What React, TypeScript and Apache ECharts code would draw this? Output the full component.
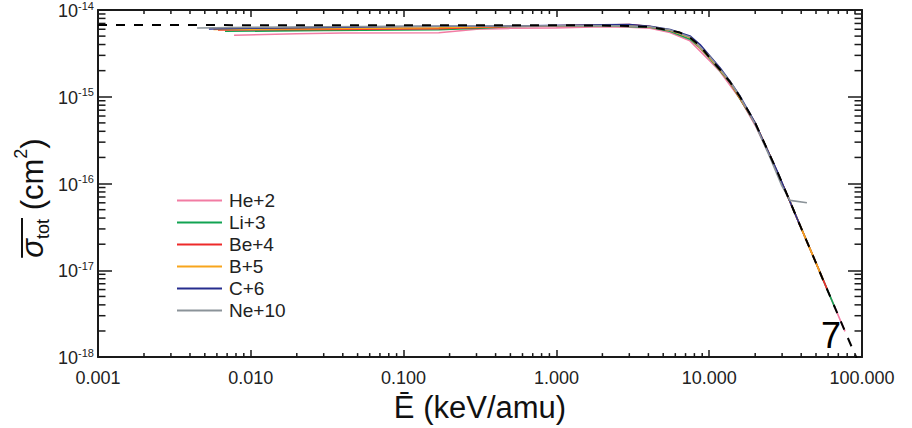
import React, { useEffect, useRef } from "react";
import * as echarts from "echarts";

// ---- data (energy in keV/amu, cross-section in cm^2) ----
const seriesNames = ["He+2", "Li+3", "Be+4", "B+5", "C+6", "Ne+10"];
const seriesColors = ["#f27ca3", "#12a352", "#ee2a2a", "#f8a51c", "#262d8e", "#8b9399"];

const he2: number[][] = [
  [0.00777, 5.12e-15], [0.02, 5.32e-15], [0.04, 5.44e-15], [0.17, 5.46e-15], [0.3, 6.0e-15],
  [0.5, 6.15e-15], [1.0, 6.22e-15], [2.0, 6.43e-15], [3.0, 6.35e-15], [4.1, 6.15e-15],
  [5.54, 5.5e-15], [7.48, 4.41e-15], [10.1, 2.58e-15], [11.8, 1.94e-15], [15.9, 9.5e-16],
  [20, 4.7e-16], [25, 2.08e-16], [33.8, 6.18e-17], [47.1, 1.56e-17], [66.5, 3.72e-18], [77.4, 1.98e-18],
];
const li3: number[][] = [
  [0.00678, 5.68e-15], [0.03, 5.8e-15], [0.17, 5.91e-15], [0.35, 6.2e-15], [0.5, 6.45e-15],
  [2.0, 6.6e-15], [4.1, 6.35e-15], [5.54, 5.7e-15], [7.48, 4.6e-15], [8.71, 3.65e-15],
  [10.1, 2.75e-15], [13.7, 1.45e-15], [20, 4.9e-16], [25, 2.1e-16], [33.8, 6.18e-17],
  [47.1, 1.56e-17], [66.5, 3.72e-18],
];
const be4: number[][] = [
  [0.0061, 5.88e-15], [0.03, 5.98e-15], [0.17, 6.1e-15], [0.5, 6.45e-15], [2.0, 6.7e-15],
  [3.0, 6.8e-15], [4.1, 6.45e-15], [5.54, 5.85e-15], [7.48, 4.85e-15], [10.1, 2.84e-15],
  [13.7, 1.48e-15], [20, 4.95e-16], [25, 2.1e-16], [33.8, 6.18e-17], [39.3, 3.29e-17],
  [47.1, 1.56e-17], [59.0, 6.12e-18],
];
const b5: number[][] = [
  [0.0057, 5.98e-15], [0.03, 6.1e-15], [0.17, 6.25e-15], [0.5, 6.5e-15], [2.0, 6.65e-15],
  [3.0, 6.6e-15], [4.1, 6.4e-15], [5.54, 5.84e-15], [7.48, 4.82e-15], [10.1, 2.82e-15],
  [13.7, 1.48e-15], [20, 5.0e-16], [25, 2.1e-16], [33.8, 6.18e-17], [39.3, 3.29e-17],
  [47.1, 1.56e-17], [55.6, 7.76e-18],
];
const c6: number[][] = [
  [0.00532, 6.04e-15], [0.01, 6.15e-15], [0.03, 6.3e-15], [0.1, 6.45e-15], [0.5, 6.55e-15],
  [2.0, 6.75e-15], [3.0, 6.8e-15], [4.1, 6.5e-15], [5.54, 5.95e-15], [7.48, 5.02e-15],
  [8.71, 4.0e-15], [10.1, 2.95e-15], [11.8, 2.15e-15], [13.7, 1.5e-15], [15.9, 1.02e-15],
  [20, 5.0e-16], [25, 2.1e-16], [27.8, 1.4e-16], [33.8, 6.18e-17], [39.3, 3.29e-17],
];
const ne10: number[][] = [
  [0.00445, 6.2e-15], [0.01, 6.3e-15], [0.03, 6.42e-15], [0.1, 6.5e-15], [0.5, 6.55e-15],
  [2.0, 6.6e-15], [3.03, 6.53e-15], [4.1, 6.4e-15], [5.54, 5.9e-15], [7.48, 4.9e-15],
  [10.1, 2.9e-15], [13.7, 1.5e-15], [15.9, 1.0e-15], [20, 4.8e-16], [25, 2.0e-16],
  [29.9, 9.4e-17], [33.8, 6.4e-17], [43.6, 6.0e-17],
];
const fitCurve: number[][] = [
  [0.001, 6.7e-15], [1.0, 6.68e-15], [2.0, 6.62e-15], [3.03, 6.53e-15], [4.1, 6.37e-15],
  [5.54, 5.84e-15], [6.44, 5.49e-15], [7.48, 4.82e-15], [8.71, 3.86e-15], [10.1, 2.8e-15],
  [11.8, 2.05e-15], [13.7, 1.48e-15], [15.9, 1.0e-15], [20, 5.0e-16], [25, 2.1e-16],
  [27.8, 1.4e-16], [33.8, 6.18e-17], [39.3, 3.29e-17], [47.1, 1.56e-17], [55.6, 7.76e-18],
  [66.5, 3.72e-18], [77.4, 1.98e-18], [92.7, 9.5e-19], [100, 6.9e-19],
];
const seriesData = [he2, li3, be4, b5, c6, ne10];

const xMin = 0.001, xMax = 100;
const yMin = 1e-18, yMax = 1e-14;
const panelLabel = "7";

const FONT = "'Liberation Sans', Arial, Helvetica, sans-serif";
const TITLE_SIZE = 31;
const SUB_SIZE = 18;

function measure(text: string, font: string): number {
  const c = document.createElement("canvas").getContext("2d");
  if (!c) return text.length * 10;
  c.font = font;
  return c.measureText(text).width;
}

export default function App() {
  const ref = useRef<HTMLDivElement>(null);
  useEffect(() => {
    if (!ref.current) return;
    const chart = echarts.init(ref.current, undefined, { renderer: "svg" });

    const xMinor: number[][] = [];
    for (let k = -3; k <= 1; k++) for (let m = 2; m <= 9; m++) xMinor.push([m * Math.pow(10, k), yMax]);
    const yMinor: number[][] = [];
    for (let k = -18; k <= -15; k++) for (let m = 2; m <= 9; m++) yMinor.push([xMin, m * Math.pow(10, k)]);

    const tickStyle = { stroke: "#1a1a1a", lineWidth: 1.5 };

    const axisCommon = {
      type: "log" as const,
      logBase: 10,
      axisLine: { show: true, lineStyle: { color: "#1a1a1a", width: 2 } },
      splitLine: { show: false },
    };

    const famCss = "\"Liberation Sans\", Arial, sans-serif";
    const wSig = measure("σ", `italic ${TITLE_SIZE}px ${famCss}`) + measure("tot", `${SUB_SIZE}px ${famCss}`);
    const wRest =
      measure(" (cm", `${TITLE_SIZE}px ${famCss}`) +
      measure("2", `${SUB_SIZE}px ${famCss}`) +
      measure(")", `${TITLE_SIZE}px ${famCss}`);
    const wTotal = wSig + wRest;
    const titleCenterY = 198;
    const titleBaseX = 32;
    const gy = titleCenterY + wTotal / 2;

    const option: any = {
      animation: false,
      backgroundColor: "#ffffff",
      grid: { left: 98, right: 50, top: 7.5, bottom: 70, containLabel: false },
      xAxis: [
        {
          ...axisCommon,
          min: xMin, max: xMax, splitNumber: 5, position: "bottom",
          axisTick: { show: true, inside: true, length: 7, lineStyle: { color: "#1a1a1a", width: 1.5 } },
          axisLabel: {
            show: true, margin: 12, fontSize: 18, color: "#222", fontFamily: FONT,
            formatter: (v: number) => v.toFixed(3),
          },
          name: "Ē (keV/amu)", nameLocation: "middle", nameGap: 34,
          nameTextStyle: { fontSize: TITLE_SIZE, color: "#111", fontFamily: FONT },
        },
        {
          ...axisCommon,
          min: xMin, max: xMax, splitNumber: 5, position: "top",
          axisTick: { show: true, inside: true, length: 7, lineStyle: { color: "#1a1a1a", width: 1.5 } },
          axisLabel: { show: false },
        },
      ],
      yAxis: [
        {
          ...axisCommon,
          min: yMin, max: yMax, splitNumber: 4, position: "left",
          axisTick: { show: true, inside: true, length: 14, lineStyle: { color: "#1a1a1a", width: 1.5 } },
          axisLabel: {
            show: true, margin: 4, color: "#222", fontFamily: FONT,
            formatter: (v: number) => `{b|10}{s|${Math.round(Math.log10(v))}}`,
            rich: {
              b: { fontSize: 18, fontFamily: FONT, color: "#222", lineHeight: 20, verticalAlign: "bottom" },
              s: { fontSize: 11, fontFamily: FONT, color: "#222", lineHeight: 20, verticalAlign: "top" },
            },
          },
        },
        {
          ...axisCommon,
          min: yMin, max: yMax, splitNumber: 4, position: "right",
          axisTick: { show: true, inside: true, length: 14, lineStyle: { color: "#1a1a1a", width: 1.5 } },
          axisLabel: { show: false },
        },
      ],
      legend: {
        data: seriesNames,
        orient: "vertical",
        left: 172,
        top: 186,
        icon: "path://M0 0H45V2H0Z",
        itemWidth: 45,
        itemHeight: 2,
        itemGap: 3,
        textStyle: { fontSize: 19, lineHeight: 19, color: "#222", fontFamily: FONT, padding: [0, 0, 0, 2] },
      },
      series: [
        ...seriesNames.map((name, i) => ({
          name,
          type: "line",
          data: seriesData[i],
          showSymbol: false,
          symbol: "none",
          lineStyle: { width: 1.6, color: seriesColors[i] },
          itemStyle: { color: seriesColors[i] },
          z: 2,
        })),
        {
          name: "fit",
          type: "line",
          data: fitCurve,
          showSymbol: false,
          symbol: "none",
          lineStyle: { width: 2, color: "#000", type: [9, 9] },
          itemStyle: { color: "#000" },
          z: 3,
        },
        {
          name: "xminor",
          type: "custom",
          silent: true,
          data: xMinor,
          renderItem: (params: any, api: any) => {
            const cs = params.coordSys;
            const p = api.coord([api.value(0), api.value(1)]);
            const b = cs.y + cs.height, t = cs.y;
            return {
              type: "group",
              children: [
                { type: "line", shape: { x1: p[0], y1: b, x2: p[0], y2: b - 4 }, style: tickStyle },
                { type: "line", shape: { x1: p[0], y1: t, x2: p[0], y2: t + 4 }, style: tickStyle },
              ],
            };
          },
          z: 4,
        },
        {
          name: "yminor",
          type: "custom",
          silent: true,
          data: yMinor,
          renderItem: (params: any, api: any) => {
            const cs = params.coordSys;
            const p = api.coord([api.value(0), api.value(1)]);
            const l = cs.x, r = cs.x + cs.width;
            return {
              type: "group",
              children: [
                { type: "line", shape: { x1: l, y1: p[1], x2: l + 7.5, y2: p[1] }, style: tickStyle },
                { type: "line", shape: { x1: r, y1: p[1], x2: r - 7.5, y2: p[1] }, style: tickStyle },
              ],
            };
          },
          z: 4,
        },
      ],
      graphic: [
        {
          type: "group",
          x: titleBaseX,
          y: gy,
          rotation: Math.PI / 2,
          children: [
            {
              type: "text",
              x: 0,
              y: 0,
              style: {
                text: "{sig|σ}{sub|tot}{p| (cm}{sup|2}{p|)}",
                align: "left",
                verticalAlign: "middle",
                fill: "#111",
                rich: {
                  sig: { fontSize: TITLE_SIZE, fontStyle: "italic", fontFamily: FONT, lineHeight: 40, verticalAlign: "middle", fill: "#111" },
                  sub: { fontSize: SUB_SIZE, fontFamily: FONT, lineHeight: 18, verticalAlign: "bottom", fill: "#111" },
                  p: { fontSize: TITLE_SIZE, fontFamily: FONT, lineHeight: 40, verticalAlign: "middle", fill: "#111" },
                  sup: { fontSize: SUB_SIZE, fontFamily: FONT, lineHeight: 30, verticalAlign: "top", fill: "#111" },
                },
              },
            },
            {
              type: "line",
              shape: { x1: 0, y1: -10, x2: wSig + 1, y2: -10 },
              style: { stroke: "#111", lineWidth: 2 },
            },
          ],
        },
        {
          type: "text",
          x: 831,
          y: 335,
          style: { text: panelLabel, fontSize: 36, fontFamily: FONT, fill: "#000", align: "center", verticalAlign: "middle" },
        },
      ],
    };

    chart.setOption(option);
    return () => chart.dispose();
  }, []);

  return (
    <div
      ref={ref}
      style={{ position: "fixed", left: 0, top: 0, width: 912, height: 428, background: "#fff" }}
    />
  );
}
